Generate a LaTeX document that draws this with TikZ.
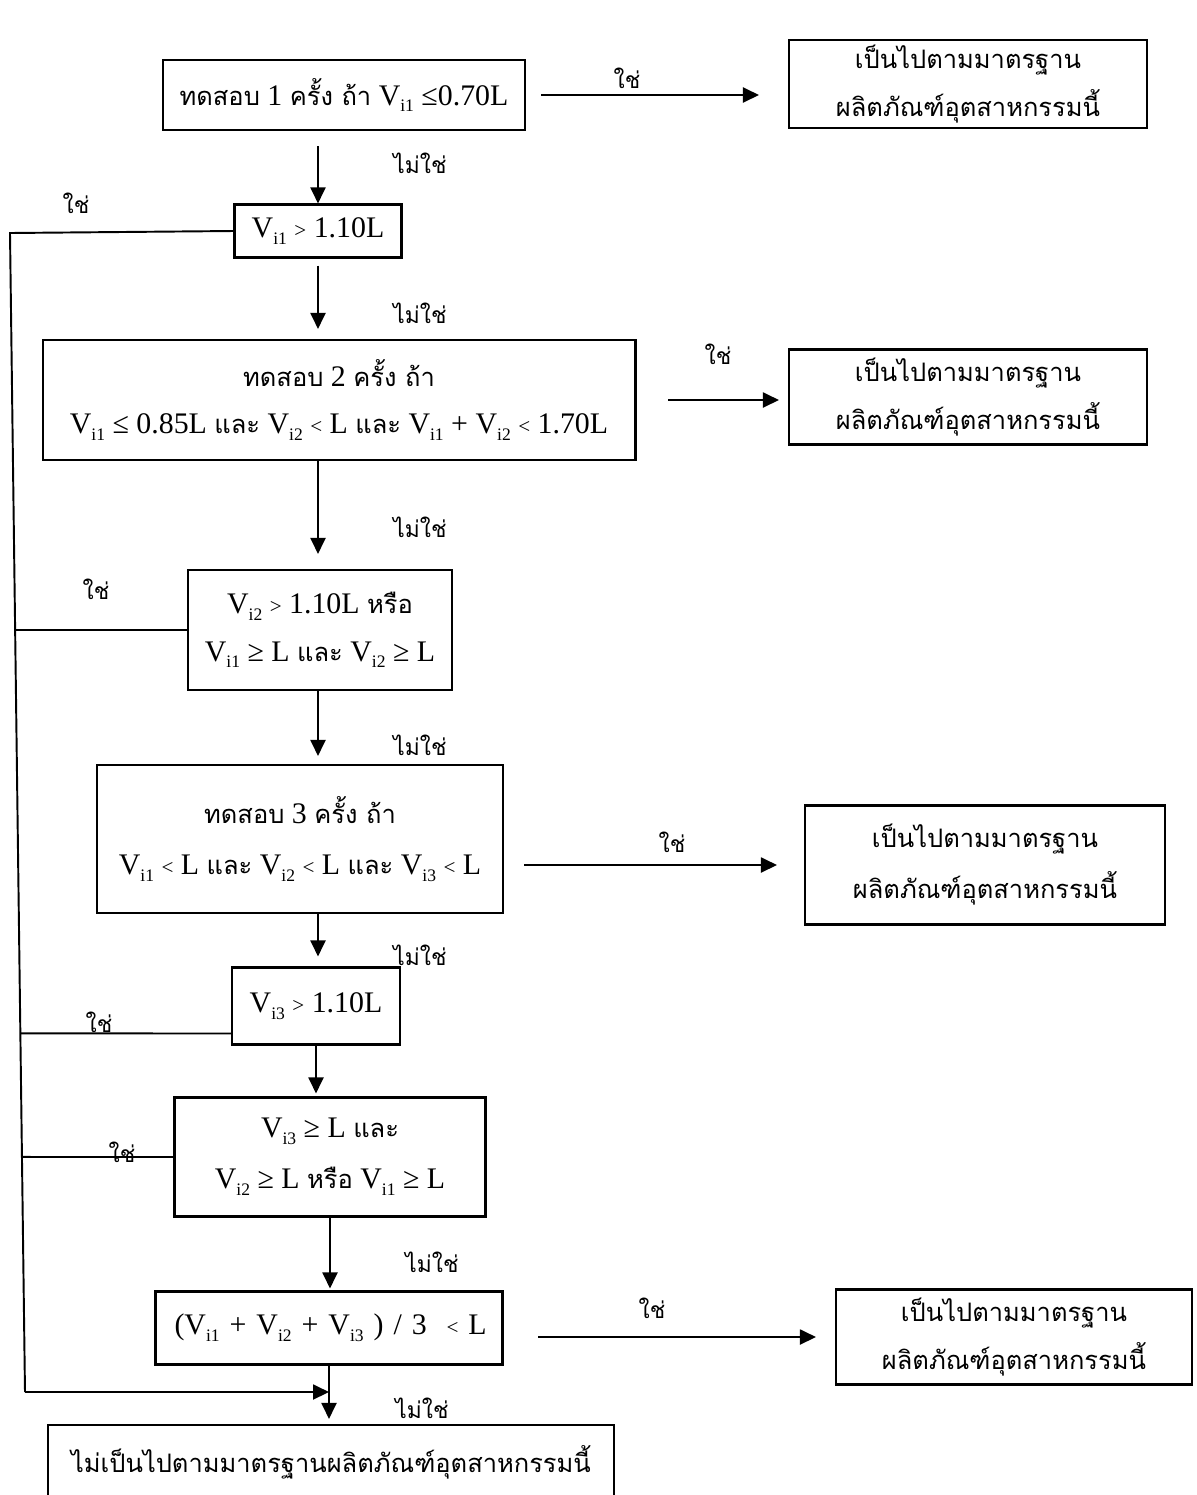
\documentclass[tikz,border=0pt]{standalone}
\usepackage{fontspec}
\setmainfont{Liberation Serif}
\newfontfamily\thai[Script=Thai]{Loma}
\usetikzlibrary{arrows.meta}

% subscripted V and small relation signs
\newcommand{\Vs}[1]{V\raisebox{-0.5ex}{\fontsize{10}{10}\selectfont i#1}}
\newcommand{\sml}[1]{{\fontsize{12}{12}\selectfont #1}}
\newcommand{\thtxt}[1]{{\thai\fontsize{14.5}{27}\selectfont #1}}

\tikzset{
  box/.style={draw, line width=1.2pt, inner sep=0pt, align=center,
    font=\fontsize{17}{27}\selectfont},
  arr/.style={line width=1.1pt, -{Triangle[length=0.32cm,width=0.3cm]}},
  lnk/.style={line width=1.1pt},
  lbl/.style={font=\thai\fontsize{13}{15}\selectfont, inner sep=0pt},
}

\begin{document}
\begin{tikzpicture}[x=0.02cm, y=-0.02cm]
  \clip (0,0) rectangle (1197,1495);
  % Boxes of the main column
  \node[box, minimum width=7.24cm, minimum height=1.40cm] (A) at (344,95)
    {\thtxt{ทดสอบ} 1 \thtxt{ครั้ง ถ้า} \Vs{1} ≤0.70L};
  \node[box, minimum width=3.34cm, minimum height=1.06cm] (B) at (318,231)
    {\Vs{1} \sml{>} 1.10L};
  \node[box, minimum width=11.86cm, minimum height=2.40cm] (C) at (339,400)
    {\thtxt{ทดสอบ} 2 \thtxt{ครั้ง ถ้า}\\
     \Vs{1} ≤ 0.85L \thtxt{และ} \Vs{2} \sml{<} L \thtxt{และ} \Vs{1} + \Vs{2} \sml{<} 1.70L};
  \node[box, minimum width=5.28cm, minimum height=2.40cm] (D) at (320,630)
    {\Vs{2} \sml{>} 1.10L \thtxt{หรือ}\\ \Vs{1} ≥ L \thtxt{และ} \Vs{2} ≥ L};
  \node[box, minimum width=8.12cm, minimum height=2.96cm] (E) at (300,839)
    {\thtxt{ทดสอบ} 3 \thtxt{ครั้ง ถ้า}\\[2pt]
     \Vs{1} \sml{<} L \thtxt{และ} \Vs{2} \sml{<} L \thtxt{และ} \Vs{3} \sml{<} L};
  \node[box, minimum width=3.36cm, minimum height=1.54cm] (F) at (316,1006)
    {\Vs{3} \sml{>} 1.10L};
  \node[box, minimum width=6.22cm, minimum height=2.38cm] (G) at (330,1157)
    {\Vs{3} ≥ L \thtxt{และ}\\[2pt] \Vs{2} ≥ L \thtxt{หรือ} \Vs{1} ≥ L};
  \node[box, minimum height=1.46cm, inner xsep=0.2cm, text width=6.54cm, align=left] (H) at (329,1328)
    {\hspace*{0.18cm}(\Vs{1} + \Vs{2} + \Vs{3} ) / 3 ~\sml{<} L};
  \node[box, minimum width=11.32cm, minimum height=1.48cm] (I) at (331,1462)
    {\thtxt{ไม่เป็นไปตามมาตรฐานผลิตภัณฑ์อุตสาหกรรมนี้}};
  % Result boxes on the right
  \node[box, minimum width=7.16cm, minimum height=1.76cm] (R1) at (968,84)
    {\thtxt{เป็นไปตามมาตรฐาน}\\ \thtxt{ผลิตภัณฑ์อุตสาหกรรมนี้}};
  \node[box, minimum width=7.16cm, minimum height=1.90cm] (R2) at (968,397)
    {\thtxt{เป็นไปตามมาตรฐาน}\\ \thtxt{ผลิตภัณฑ์อุตสาหกรรมนี้}};
  \node[box, minimum width=7.20cm, minimum height=2.38cm] (R3) at (985,865)
    {\thtxt{เป็นไปตามมาตรฐาน}\\[2pt] \thtxt{ผลิตภัณฑ์อุตสาหกรรมนี้}};
  \node[box, minimum width=7.12cm, minimum height=1.90cm] (R4) at (1014,1337)
    {\thtxt{เป็นไปตามมาตรฐาน}\\ \thtxt{ผลิตภัณฑ์อุตสาหกรรมนี้}};
  % Arrows down the column
  \draw[arr, shorten <=0.3cm] (A.south -| B.north) -- (B.north);
  \draw[arr, shorten <=0.14cm, shorten >=0.2cm] (B.south) -- (B.south |- C.north);
  \draw[arr, shorten >=0.3cm] (B.south |- C.south) -- (B.south |- D.north);
  \draw[arr, shorten >=0.16cm] (B.south |- D.south) -- (B.south |- E.north);
  \draw[arr, shorten >=0.2cm] (B.south |- E.south) -- (B.south |- F.north);
  \draw[arr, shorten >=0.06cm] (F.south) -- (F.south |- G.north);
  \draw[arr, shorten >=0.04cm] (G.south) -- (G.south |- H.north);
  \draw[arr, shorten >=0.1cm] (H.south) -- (H.south |- I.north);
  % Arrows to the right
  \draw[arr, shorten <=0.3cm, shorten >=0.58cm] (A.east) -- (A.east -| R1.west);
  \draw[arr, shorten <=0.64cm, shorten >=0.18cm] (C.east) -- (C.east -| R2.west);
  \draw[arr, shorten <=0.4cm, shorten >=0.54cm] (E.east |- R3.west) -- (R3.west);
  \draw[arr, shorten <=0.69cm, shorten >=0.38cm] (H.east |- R4.west) -- (R4.west);
  % Return line on the left
  \coordinate (ttop) at (10,233);
  \coordinate (tbot) at (25,1392);
  \coordinate (fw) at ([yshift=-0.55cm]F.west);
  \coordinate (dD) at (D.west -| ttop);
  \coordinate (dF) at (fw -| ttop);
  \coordinate (dG) at (G.west -| ttop);
  \draw[lnk] (B.west) -- (ttop) -- (tbot);
  \draw[arr] (tbot) -- (tbot -| H.south);
  \draw[lnk] (D.west) -- (intersection of ttop--tbot and D.west--dD);
  \draw[lnk] (fw) -- (intersection of ttop--tbot and fw--dF);
  \draw[lnk] (G.west) -- (intersection of ttop--tbot and G.west--dG);
  % Labels
  \node[lbl] (y1) at (627,78) {ใช่};
  \node[lbl] (y2) at (718,354) {ใช่};
  \node[lbl] (y3) at (672,842) {ใช่};
  \node[lbl] (y4) at (652,1308) {ใช่};
  \node[lbl] (y5) at (76,203) {ใช่};
  \node[lbl] (y6) at (96,589) {ใช่};
  \node[lbl] (y7) at (99,1022) {ใช่};
  \node[lbl] (y8) at (122,1152) {ใช่};
  \foreach \y [count=\i] in {163,313,527,745,955}
    \node[lbl] (n\i) at (420,\y) {ไม่ใช่};
  \node[lbl] (n6) at (432,1262) {ไม่ใช่};
  \node[lbl] (n7) at (422,1408) {ไม่ใช่};
\end{tikzpicture}
\end{document}
